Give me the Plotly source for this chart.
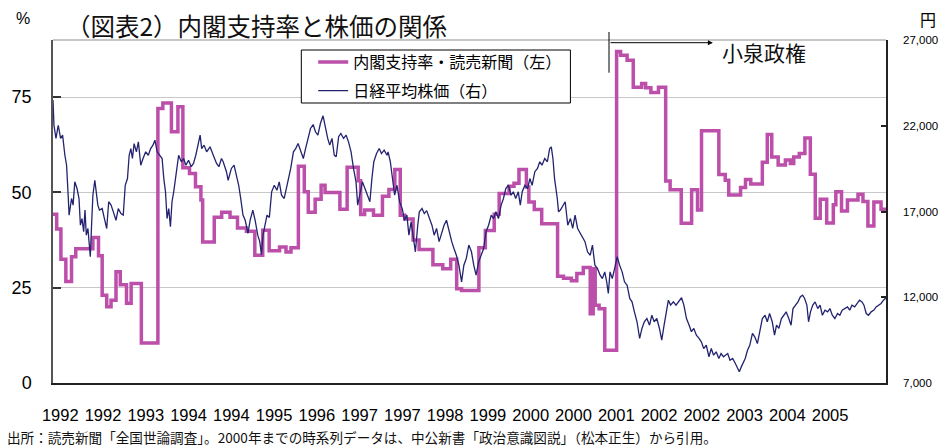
import plotly.graph_objects as go

# ---------------- data ----------------
# Cabinet approval rating (Yomiuri), step series: start of each step (decimal year) and value (%)
approval_year = [
    1992.000, 1992.061, 1992.131, 1992.213, 1992.307, 1992.377, 1992.661, 1992.754, 1992.815, 1992.890,
    1992.962, 1993.044, 1993.115, 1993.218, 1993.295, 1993.464, 1993.738, 1993.820, 1993.962, 1994.070,
    1994.152, 1994.262, 1994.361, 1994.451, 1994.480, 1994.672, 1994.795, 1994.934, 1995.057, 1995.205,
    1995.344, 1995.475, 1995.582, 1995.754, 1995.861, 1995.943, 1996.066, 1996.164, 1996.230, 1996.344,
    1996.443, 1996.508, 1996.754, 1996.874, 1997.057, 1997.098, 1997.164, 1997.311, 1997.459, 1997.566,
    1997.664, 1997.754, 1997.828, 1997.967, 1998.066, 1998.295, 1998.459, 1998.590, 1998.689, 1998.770,
    1999.057, 1999.164, 1999.311, 1999.393, 1999.557, 1999.639, 1999.721, 1999.844, 1999.885, 1999.975,
    2000.098, 2000.361, 2000.459, 2000.590, 2000.680, 2000.787, 2000.902, 2000.951, 2000.984, 2001.049,
    2001.143, 2001.339, 2001.405, 2001.513, 2001.615, 2001.754, 2001.820, 2001.907, 2002.033, 2002.152,
    2002.226, 2002.410, 2002.582, 2002.680, 2002.746, 2003.033, 2003.139, 2003.197, 2003.393, 2003.475,
    2003.562, 2003.754, 2003.836, 2003.910, 2004.016, 2004.136, 2004.218, 2004.274, 2004.366, 2004.459,
    2004.549, 2004.631, 2004.713, 2004.820, 2004.930, 2004.972, 2005.066, 2005.164, 2005.339, 2005.421,
    2005.503, 2005.602, 2005.721, 2005.803,
]
approval_pct = [
    44.3, 40.4, 32.5, 26.6, 33.1, 35.2, 38.2, 33.4, 23.0, 20.0,
    21.7, 29.2, 25.8, 20.9, 26.1, 10.5, 72.0, 73.5, 65.9, 72.5,
    56.5, 55.0, 51.5, 48.0, 37.0, 43.5, 44.8, 43.5, 40.7, 39.8,
    33.5, 40.1, 34.7, 35.7, 34.4, 35.5, 56.9, 50.2, 44.8, 48.2,
    51.9, 50.0, 45.6, 56.6, 53.1, 44.2, 45.4, 44.0, 49.0, 50.8,
    56.0, 44.0, 43.0, 37.5, 35.0, 31.0, 30.0, 32.5, 24.7, 24.3,
    35.5, 40.0, 44.3, 49.7, 51.6, 52.4, 56.0, 51.4, 47.5, 45.5,
    41.8, 28.0, 27.5, 26.8, 28.7, 30.3, 18.2, 30.0, 20.4, 19.5,
    8.6, 87.0, 86.0, 84.7, 77.6, 78.6, 77.5, 76.2, 77.6, 53.0,
    50.7, 41.9, 50.7, 45.4, 66.2, 54.7, 53.2, 49.3, 51.3, 53.4,
    52.2, 57.9, 65.2, 59.3, 57.2, 58.5, 57.6, 59.3, 60.2, 64.3,
    54.8, 43.2, 48.2, 42.0, 46.8, 50.2, 45.1, 48.0, 49.5, 47.6,
    41.2, 47.5, 45.6, 45.6,
]

# Nikkei 225 average (yen)
nikkei_year = [
    1992.000, 1992.016, 1992.049, 1992.087, 1992.126, 1992.159, 1992.197, 1992.225, 1992.251, 1992.267,
    1992.307, 1992.333, 1992.361, 1992.398, 1992.431, 1992.454, 1992.480, 1992.508, 1992.530, 1992.552,
    1992.579, 1992.595, 1992.618, 1992.639, 1992.661, 1992.693, 1992.716, 1992.743, 1992.770, 1992.815,
    1992.852, 1992.890, 1992.923, 1992.962, 1993.000, 1993.044, 1993.082, 1993.126, 1993.164, 1993.197,
    1993.234, 1993.262, 1993.290, 1993.316, 1993.344, 1993.382, 1993.415, 1993.454, 1993.492, 1993.536,
    1993.579, 1993.618, 1993.656, 1993.689, 1993.726, 1993.766, 1993.808, 1993.836, 1993.864, 1993.890,
    1993.918, 1993.946, 1993.972, 1994.000, 1994.028, 1994.054, 1994.082, 1994.126, 1994.164, 1994.202,
    1994.246, 1994.290, 1994.328, 1994.366, 1994.410, 1994.438, 1994.464, 1994.503, 1994.546, 1994.602,
    1994.656, 1994.710, 1994.749, 1994.792, 1994.820, 1994.874, 1994.902, 1994.956, 1995.000, 1995.038,
    1995.077, 1995.110, 1995.148, 1995.185, 1995.230, 1995.267, 1995.311, 1995.349, 1995.393, 1995.426,
    1995.454, 1995.480, 1995.513, 1995.546, 1995.585, 1995.623, 1995.667, 1995.710, 1995.749, 1995.787,
    1995.831, 1995.869, 1995.902, 1995.939, 1995.984, 1996.021, 1996.061, 1996.103, 1996.148, 1996.185,
    1996.225, 1996.267, 1996.311, 1996.349, 1996.389, 1996.431, 1996.475, 1996.513, 1996.552, 1996.585,
    1996.623, 1996.661, 1996.693, 1996.733, 1996.770, 1996.815, 1996.857, 1996.897, 1996.939, 1996.979,
    1997.021, 1997.049, 1997.087, 1997.126, 1997.169, 1997.208, 1997.251, 1997.284, 1997.316, 1997.361,
    1997.405, 1997.443, 1997.487, 1997.536, 1997.552, 1997.590, 1997.623, 1997.661, 1997.700, 1997.743,
    1997.787, 1997.825, 1997.864, 1997.897, 1997.934, 1997.972, 1998.005, 1998.044, 1998.070, 1998.115,
    1998.152, 1998.192, 1998.234, 1998.279, 1998.316, 1998.356, 1998.398, 1998.443, 1998.480, 1998.520,
    1998.562, 1998.607, 1998.644, 1998.684, 1998.726, 1998.770, 1998.808, 1998.848, 1998.890, 1998.934,
    1998.972, 1999.011, 1999.054, 1999.098, 1999.136, 1999.175, 1999.218, 1999.262, 1999.300, 1999.339,
    1999.382, 1999.426, 1999.464, 1999.503, 1999.546, 1999.590, 1999.628, 1999.667, 1999.710, 1999.743,
    1999.775, 1999.820, 1999.864, 1999.902, 1999.939, 1999.984, 2000.028, 2000.066, 2000.103, 2000.148,
    2000.192, 2000.230, 2000.257, 2000.284, 2000.311, 2000.356, 2000.377, 2000.410, 2000.448, 2000.487,
    2000.530, 2000.574, 2000.611, 2000.651, 2000.693, 2000.738, 2000.775, 2000.815, 2000.857, 2000.902,
    2000.939, 2000.979, 2001.021, 2001.066, 2001.103, 2001.143, 2001.175, 2001.202, 2001.230, 2001.267,
    2001.307, 2001.349, 2001.389, 2001.431, 2001.470, 2001.513, 2001.557, 2001.595, 2001.634, 2001.677,
    2001.721, 2001.759, 2001.798, 2001.841, 2001.885, 2001.923, 2001.962, 2002.005, 2002.049, 2002.087,
    2002.126, 2002.159, 2002.197, 2002.234, 2002.279, 2002.323, 2002.361, 2002.415, 2002.454, 2002.497,
    2002.541, 2002.579, 2002.618, 2002.661, 2002.705, 2002.743, 2002.782, 2002.825, 2002.869, 2002.908,
    2002.946, 2002.989, 2003.033, 2003.070, 2003.110, 2003.152, 2003.180, 2003.218, 2003.262, 2003.307,
    2003.344, 2003.372, 2003.405, 2003.438, 2003.470, 2003.508, 2003.546, 2003.590, 2003.628, 2003.672,
    2003.710, 2003.754, 2003.798, 2003.836, 2003.874, 2003.918, 2003.956, 2003.989, 2004.028, 2004.070,
    2004.110, 2004.148, 2004.192, 2004.230, 2004.262, 2004.300, 2004.344, 2004.385, 2004.421, 2004.454,
    2004.492, 2004.520, 2004.552, 2004.590, 2004.628, 2004.672, 2004.710, 2004.749, 2004.792, 2004.836,
    2004.874, 2004.913, 2004.956, 2005.000, 2005.038, 2005.077, 2005.120, 2005.164, 2005.202, 2005.239,
    2005.284, 2005.328, 2005.364, 2005.405, 2005.438, 2005.475, 2005.513, 2005.557, 2005.602, 2005.639,
    2005.677, 2005.721, 2005.762, 2005.803,
]
nikkei_yen = [
    23500, 22030, 21260, 22030, 21260, 21450, 20280, 19700, 17950, 16790,
    17760, 17370, 18730, 18340, 17760, 16200, 16590, 15820, 17080, 15620,
    16010, 15040, 14360, 16200, 17950, 18820, 18150, 17370, 17080, 17170,
    16590, 16010, 17570, 17370, 16980, 16490, 17170, 16880, 16790, 18530,
    18920, 20280, 20670, 20090, 20960, 20480, 21060, 19700, 20090, 20480,
    20280, 20670, 20870, 21160, 20480, 20280, 20090, 18920, 18150, 16590,
    17170, 16110, 17570, 18150, 18920, 19320, 20280, 19900, 20090, 19700,
    19990, 19610, 19800, 20280, 21060, 21450, 20670, 20870, 20480, 20770,
    20280, 19800, 19610, 20090, 19900, 19320, 18820, 19510, 19700, 19120,
    18530, 17760, 16790, 16490, 15720, 16490, 17080, 16490, 15620, 15240,
    14490, 15620, 16200, 16790, 16650, 18150, 18530, 18240, 18730, 17950,
    17760, 18340, 18920, 19510, 20480, 20670, 20960, 20480, 20090, 20670,
    21260, 21840, 22070, 21650, 21450, 22130, 22580, 21840, 21260, 20870,
    21260, 20280, 20190, 21360, 21550, 21260, 21450, 21060, 20480, 19510,
    18730, 17370, 18150, 18730, 18340, 17950, 17570, 18920, 19900, 20380,
    20670, 20380, 20580, 20280, 20480, 19900, 18920, 17950, 18530, 17570,
    17170, 16490, 16790, 15620, 16400, 15430, 14650, 16200, 16980, 17170,
    16880, 17050, 16590, 16200, 15620, 16010, 15240, 15820, 16200, 16490,
    15820, 15240, 14840, 14450, 13870, 12900, 13870, 14260, 15040, 14650,
    13870, 13290, 14070, 14450, 14840, 15820, 16200, 16790, 16590, 16980,
    16590, 17370, 17760, 18340, 18530, 17950, 18150, 17760, 18150, 17370,
    18150, 18530, 18340, 18920, 18530, 19320, 19510, 19900, 19700, 20090,
    19900, 20670, 20770, 20090, 18920, 17760, 16980, 17100, 17370, 17570,
    16200, 16590, 16010, 16790, 16010, 15720, 15430, 15240, 14650, 14450,
    15040, 13870, 13680, 13290, 13090, 13480, 12900, 12220, 13480, 13090,
    13680, 14360, 13870, 13480, 12900, 12700, 11930, 11730, 11150, 10570,
    9600, 10180, 10570, 10760, 10370, 10950, 10570, 10760, 10180, 9500,
    10370, 11150, 11830, 11540, 11730, 11540, 11730, 11970, 11540, 10760,
    10370, 9990, 10180, 9790, 9600, 9400, 9010, 9200, 8530, 9010,
    8620, 8820, 8430, 8720, 8530, 8620, 8720, 8330, 8430, 8140,
    7850, 7660, 7940, 8240, 8430, 8910, 9200, 9890, 9690, 9300,
    9990, 10760, 10950, 10570, 11050, 10570, 9790, 10370, 10180, 10760,
    10950, 11150, 10760, 10370, 11340, 11540, 11730, 12030, 12120, 11930,
    11540, 10570, 11150, 11540, 11730, 11340, 11540, 10950, 11250, 11150,
    11340, 10950, 10760, 11050, 10950, 11250, 11340, 11440, 11250, 11540,
    11440, 11640, 11830, 11730, 11540, 11050, 10950, 11150, 11250, 11440,
    11540, 11640, 11830, 11970,
]

# x-axis category labels as printed under the chart
x_labels = ["1992", "1992", "1993", "1994", "1994", "1995", "1996", "1997", "1997", "1998",
            "1999", "2000", "2000", "2001", "2002", "2002", "2003", "2004", "2005"]
label_first = 1992.120
label_step = 0.7087

left_ticks = [0, 25, 50, 75]
right_ticks = [7000, 12000, 17000, 22000, 27000]

koizumi_start = 2001.213
koizumi_arrow_end = 2002.934
koizumi_label_x = 2003.787

PINK = "#BC4FAA"
NAVY = "#23236F"
FONT = "Liberation Sans, Noto Sans CJK JP, sans-serif"
JFONT = "Noto Sans CJK JP, sans-serif"

# ---------------- figure ----------------
fig = go.Figure()
fig.add_trace(go.Scatter(
    x=approval_year, y=approval_pct, mode="lines", line_shape="hv",
    line=dict(color=PINK, width=3.5), name="内閣支持率・読売新聞（左）",
    legendgroup="a", yaxis="y"))
fig.add_trace(go.Scatter(
    x=nikkei_year, y=nikkei_yen, mode="lines",
    line=dict(color=NAVY, width=1.3), name="日経平均株価（右）",
    legendgroup="b", yaxis="y2"))

tickvals = [label_first + i * label_step for i in range(len(x_labels))]

plot_w = 950 - 51 - 57
plot_h = 448 - 40 - 65

def px_x(p):
    return (p - 51) / plot_w

def px_y(p):
    return 1 - (p - 40) / plot_h

fig.update_layout(
    width=950, height=448,
    margin=dict(l=51, r=57, t=40, b=65),
    paper_bgcolor="white", plot_bgcolor="white",
    font=dict(family=FONT, color="black"),
    showlegend=True,
    legend=dict(x=px_x(314), y=px_y(45), xanchor="left", yanchor="top",
                bgcolor="rgba(0,0,0,0)", borderwidth=0,
                font=dict(family=JFONT, size=16, color="black"),
                tracegroupgap=5, traceorder="grouped"),
    xaxis=dict(range=[1992.0, 2005.803], showgrid=False, zeroline=False,
               showline=True, linecolor="#222", linewidth=1.5,
               ticks="", tickvals=tickvals, ticktext=x_labels,
               tickfont=dict(size=16.5, color="black"), ticklabelstandoff=16),
    yaxis=dict(range=[0, 90], tickvals=left_ticks, showgrid=True,
               gridcolor="#c8c8c8", gridwidth=1, zeroline=False,
               showline=True, linecolor="#555", linewidth=1.5,
               ticks="inside", ticklen=8, tickwidth=1.5, tickcolor="#333",
               tickfont=dict(size=18, color="black"), ticklabelstandoff=16),
    yaxis2=dict(range=[7000, 27000], tickvals=right_ticks, tickformat=",d",
                overlaying="y", side="right", showgrid=False, zeroline=False,
                showline=True, linecolor="#222", linewidth=1.5,
                ticks="inside", ticklen=5, tickwidth=1.5, tickcolor="#222",
                tickfont=dict(size=11.5, color="black"), ticklabelstandoff=13),
)

shapes = [
    # top border of plot area
    dict(type="line", xref="paper", yref="paper", x0=0, x1=1, y0=1, y1=1,
         line=dict(color="#b4b4b4", width=1.5), layer="above"),
    # legend frame
    dict(type="rect", xref="paper", yref="paper", x0=px_x(302), x1=px_x(574),
         y0=px_y(103), y1=px_y(50), line=dict(color="black", width=1),
         fillcolor="white", layer="above"),
    # Koizumi start marker
    dict(type="line", xref="x", yref="paper", x0=koizumi_start, x1=koizumi_start,
         y0=px_y(72.7), y1=px_y(32), line=dict(color="black", width=1), layer="above"),
]
fig.update_layout(shapes=shapes)

annotations = [
    dict(text="（図表2）内閣支持率と株価の関係", xref="paper", yref="paper",
         x=px_x(62), y=px_y(26), xanchor="left", yanchor="middle", showarrow=False,
         font=dict(family=JFONT, size=24.5, color="#111")),
    dict(text="%", xref="paper", yref="paper", x=px_x(21), y=px_y(18),
         xanchor="center", yanchor="middle", showarrow=False,
         font=dict(family=FONT, size=16, color="black")),
    dict(text="円", xref="paper", yref="paper", x=px_x(935), y=px_y(19),
         xanchor="center", yanchor="middle", showarrow=False,
         font=dict(family=JFONT, size=16, color="black")),
    dict(text="小泉政権", xref="x", yref="paper", x=koizumi_label_x, y=px_y(52),
         xanchor="center", yanchor="middle", showarrow=False,
         font=dict(family=JFONT, size=21, color="#111")),
    dict(text="", xref="x", yref="paper", x=koizumi_arrow_end, y=px_y(42.7),
         axref="x", ayref="pixel", ax=koizumi_start, ay=0, showarrow=True,
         arrowhead=2, arrowsize=1, arrowwidth=1, arrowcolor="black"),
    dict(text="出所：読売新聞「全国世論調査」。2000年までの時系列データは、中公新書「政治意識図説」（松本正生）から引用。",
         xref="paper", yref="paper", x=px_x(2), y=px_y(437), xanchor="left", yanchor="middle",
         showarrow=False, font=dict(family=JFONT, size=13.6, color="#111")),
]
fig.update_layout(annotations=annotations)

fig.write_html("out.html")
